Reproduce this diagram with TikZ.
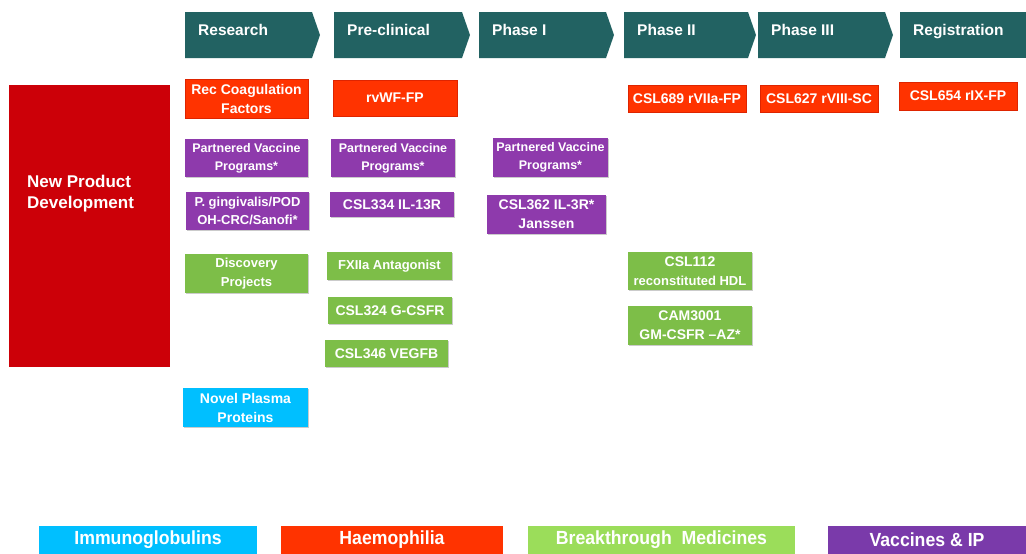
\documentclass[tikz,border=0pt]{standalone}
\usepackage{fontspec}
\setmainfont{Liberation Sans}
\newfontfamily\legendfont[FakeStretch=0.93]{Liberation Sans}
\usetikzlibrary{shadows}

\definecolor{phaseteal}{RGB}{34,98,98}
\definecolor{npdred}{RGB}{204,0,8}
\definecolor{haemred}{RGB}{255,51,0}
\definecolor{haemedge}{RGB}{222,36,0}
\definecolor{vacpurple}{RGB}{142,58,172}
\definecolor{brkgreen}{RGB}{125,190,72}
\definecolor{plasmacyan}{RGB}{0,191,255}
\definecolor{legpurple}{RGB}{122,58,170}
\definecolor{leggreen}{RGB}{155,221,90}

\begin{document}
\begin{tikzpicture}[x=1pt,y=-1pt,
    phase/.style={fill=phaseteal},
    phaselbl/.style={anchor=base west, text=white, inner sep=0pt, font=\bfseries\fontsize{15.5}{18}\selectfont},
    box/.style={rectangle, inner sep=0pt, align=center, text=white,
        drop shadow={shadow xshift=0.8pt, shadow yshift=-0.8pt, fill=black!45, opacity=0.45}},
    big/.style={font=\bfseries\fontsize{14}{19}\selectfont},
    small/.style={font=\bfseries\fontsize{12.5}{18}\selectfont},
    mid/.style={font=\bfseries\fontsize{13}{18.5}\selectfont},
    haem/.style={box, big, fill=haemred, draw=haemedge, line width=0.8pt},
    vacc/.style={box, fill=vacpurple},
    brk/.style={box, fill=brkgreen},
    plasma/.style={box, fill=plasmacyan},
    legend/.style={rectangle, inner sep=0pt, minimum height=28pt, text=white,
        font=\legendfont\bfseries\fontsize{19}{22}\selectfont}]

    \useasboundingbox (0,0) rectangle (1026,554);

    % Phase chevrons
    \foreach \xa/\xb/\name/\lbl in {185/312/res/Research, 334/462/pre/Pre-clinical,
        479/606/phi/Phase I, 624/748/phii/Phase II, 758/885/phiii/Phase III}
    {
        \fill[phase] (\xa,12) -- (\xb,12) -- (\xb+8,35) -- (\xb,58) -- (\xa,58) -- cycle;
        \node[phaselbl] (\name) at (\xa+13,35) {\lbl};
    }
    \fill[phase] (900,12) rectangle (1026,58);
    \node[phaselbl] (reg) at (913,35) {Registration};

    % New product development block
    \node[rectangle, fill=npdred, minimum width=161pt, minimum height=282pt] (npd) at (89.5,226) {};
    \node[anchor=west, align=left, text=white, inner sep=0pt,
        font=\bfseries\fontsize{17}{21}\selectfont] (npdlbl) at (27,193.5) {New Product\\Development};

    % Haemophilia
    \node[haem, minimum width=123pt, minimum height=39pt] (rec) at (246.5,98.5) {Rec Coagulation\\Factors};
    \node[haem, minimum width=124pt, minimum height=36pt] (rvwf) at (395,98) {rvWF-FP};
    \node[haem, minimum width=118pt, minimum height=27pt] (csl689) at (687,98.5) {CSL689 rVIIa-FP};
    \node[haem, minimum width=118pt, minimum height=27pt] (csl627) at (819,98.5) {CSL627 rVIII-SC};
    \node[haem, minimum width=118pt, minimum height=28pt] (csl654) at (958,96) {CSL654 rIX-FP};

    % Vaccines & IP
    \node[vacc, small, minimum width=123pt, minimum height=38pt] (pvpres) at (246.5,158) {Partnered Vaccine\\Programs*};
    \node[vacc, small, minimum width=124pt, minimum height=38pt] (pvppre) at (393,158) {Partnered Vaccine\\Programs*};
    \node[vacc, small, minimum width=115pt, minimum height=39pt] (pvpphi) at (550.5,157.5) {Partnered Vaccine\\Programs*};
    \node[vacc, mid, minimum width=123pt, minimum height=38pt] (ging) at (247.5,211) {P. gingivalis/POD\\OH-CRC/Sanofi*};
    \node[vacc, big, minimum width=124pt, minimum height=25pt] (csl334) at (392,204.5) {CSL334 IL-13R};
    \node[vacc, big, minimum width=119pt, minimum height=39pt] (csl362) at (546.5,214.5) {CSL362 IL-3R*\\Janssen};

    % Breakthrough medicines
    \node[brk, mid, minimum width=123pt, minimum height=39pt] (disc) at (246.5,273.5) {Discovery\\Projects};
    \node[brk, mid, minimum width=125pt, minimum height=28pt] (fxiia) at (389.5,266) {FXIIa Antagonist};
    \node[brk, big, minimum width=124pt, minimum height=27pt] (csl324) at (390,310.5) {CSL324 G-CSFR};
    \node[brk, big, minimum width=123pt, minimum height=27pt] (csl346) at (386.5,353.5) {CSL346 VEGFB};
    \node[brk, mid, minimum width=124pt, minimum height=38pt] (csl112) at (690,271)
        {{\fontsize{14}{18.5}\selectfont CSL112}\\reconstituted HDL};
    \node[brk, big, minimum width=124pt, minimum height=39pt] (cam) at (690,325.5) {CAM3001\\GM-CSFR --AZ*};

    % Immunoglobulins / plasma
    \node[plasma, big, minimum width=125pt, minimum height=39pt] (novel) at (245.5,407.5) {Novel Plasma\\Proteins};

    % Legend
    \node[legend, fill=plasmacyan, minimum width=218pt] (legimm) at (148,540) {Immunoglobulins};
    \node[legend, fill=haemred, minimum width=222pt] (leghaem) at (392,540) {Haemophilia};
    \node[legend, fill=leggreen, minimum width=267pt] (legbrk) at (661.5,540) {Breakthrough\ \ Medicines};
    \node[legend, fill=legpurple, minimum width=198pt] (legvac) at (927,540) {Vaccines \& IP};
\end{tikzpicture}
\end{document}
